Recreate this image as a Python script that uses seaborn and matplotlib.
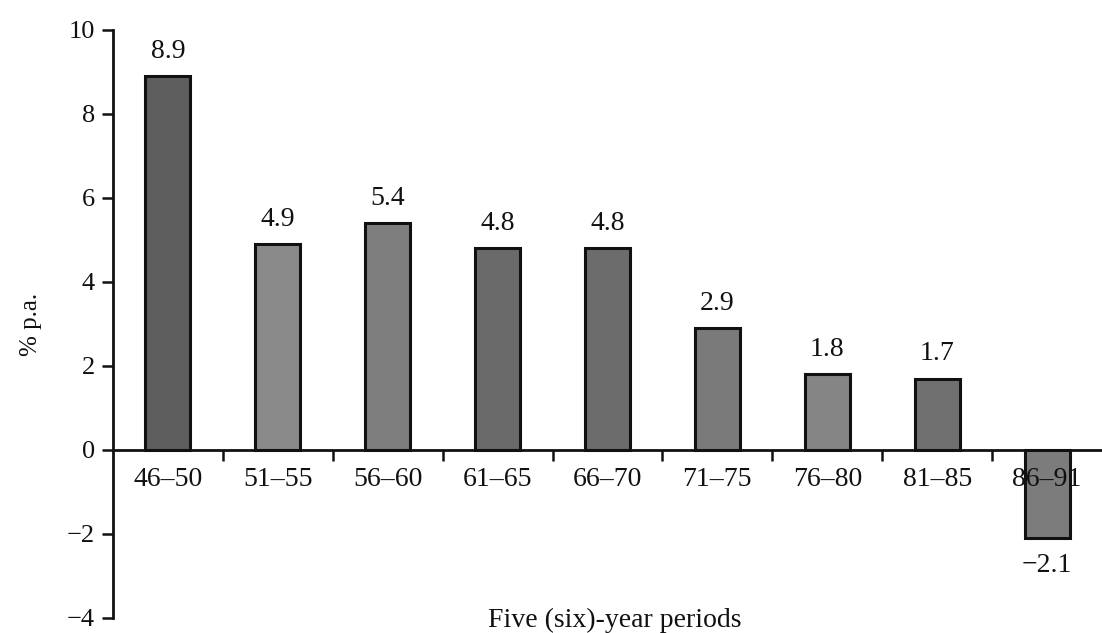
import numpy as np
import pandas as pd
import matplotlib
matplotlib.use("Agg")
import matplotlib.pyplot as plt
from matplotlib.ticker import FixedLocator
import seaborn as sns

# data
periods = ["46\u201350", "51\u201355", "56\u201360", "61\u201365", "66\u201370",
           "71\u201375", "76\u201380", "81\u201385", "86\u201391"]
growth = [8.9, 4.9, 5.4, 4.8, 4.8, 2.9, 1.8, 1.7, -2.1]
bar_greys = ["#5e5e5e", "#8a8a8a", "#7e7e7e", "#6a6a6a", "#6c6c6c",
             "#7a7a7a", "#858585", "#707070", "#7c7c7c"]

df = pd.DataFrame({"period": periods, "growth": growth})

sns.set_style("ticks")
plt.rcParams["font.family"] = ["Liberation Serif", "DejaVu Serif"]

fig = plt.figure(figsize=(11.02, 6.33), dpi=100)
ax = fig.add_axes([0.1025, 0.0237, 0.8975, 0.929])

sns.barplot(data=df, x="period", y="growth", hue="period", palette=bar_greys,
            legend=False, width=0.41, edgecolor="#111111", linewidth=2.2,
            saturation=1, ax=ax)
# tick labels over the bars (86-91 label shows through the negative bar)
ax.set_axisbelow(False)

ax.set_xlim(-0.5, 8.5)
ax.set_ylim(-4, 10)
ax.set_yticks([-4, -2, 0, 2, 4, 6, 8, 10])
ax.set_yticklabels(["\u22124", "\u22122", "0", "2", "4", "6", "8", "10"])

# x axis drawn through zero, labels under it, ticks between categories
ax.spines["bottom"].set_position(("data", 0))
ax.spines["top"].set_visible(False)
ax.spines["right"].set_visible(False)
for s in ["left", "bottom"]:
    ax.spines[s].set_linewidth(2)
    ax.spines[s].set_color("#111111")

ax.tick_params(axis="x", which="major", length=0, pad=12, labelsize=20, labelcolor="#111111")
ax.xaxis.set_minor_locator(FixedLocator(np.arange(0.5, 8, 1)))
ax.tick_params(axis="x", which="minor", length=8, width=1.8, direction="out", color="#111111")
ax.tick_params(axis="y", length=8, width=1.8, labelsize=19, pad=5, color="#111111", labelcolor="#111111")

# value labels
for i, v in enumerate(growth):
    if v >= 0:
        ax.text(i, v + 0.3, f"{v:.1f}", ha="center", va="bottom", fontsize=20, color="#111111")
    else:
        ax.text(i, v - 0.35, f"\u2212{abs(v):.1f}", ha="center", va="top", fontsize=20, color="#111111")

ax.set_xlabel("")
ax.set_ylabel("% p.a.", fontsize=18, labelpad=18, color="#111111")
fig.text(0.558, 0.02, "Five (six)-year periods", ha="center", va="center", fontsize=20, color="#111111")

fig.savefig("out.png", dpi=100)
